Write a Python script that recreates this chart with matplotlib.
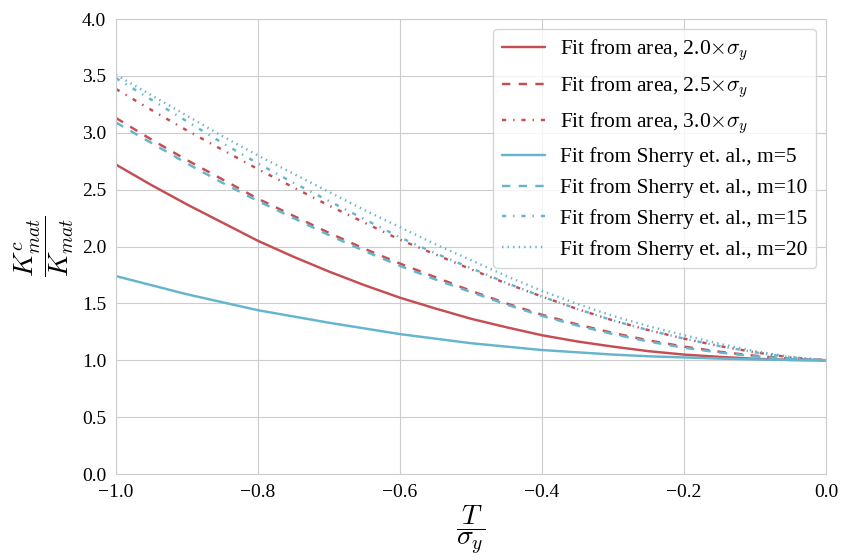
import matplotlib
matplotlib.use("Agg")
import matplotlib.pyplot as plt
import seaborn as sns

sns.set_style("whitegrid")
plt.rcParams['font.family'] = ['Liberation Serif', 'DejaVu Serif']
plt.rcParams['mathtext.fontset'] = 'cm'
plt.rcParams['lines.scale_dashes'] = False
plt.rcParams['text.color'] = 'black'
plt.rcParams['xtick.color'] = 'black'
plt.rcParams['ytick.color'] = 'black'
plt.rcParams['axes.labelcolor'] = 'black'

# T / sigma_y
x = [-1.0, -0.95, -0.9, -0.85, -0.8, -0.75, -0.7, -0.65, -0.6, -0.55, -0.5,
     -0.45, -0.4, -0.35, -0.3, -0.25, -0.2, -0.15, -0.1, -0.05, 0.0]

# fits from area
area_20 = [2.72, 2.54, 2.37, 2.21, 2.05, 1.91, 1.78, 1.66, 1.55, 1.455, 1.365,
           1.29, 1.22, 1.165, 1.12, 1.08, 1.05, 1.03, 1.013, 1.003, 1.0]
area_25 = [3.13, 2.94, 2.76, 2.59, 2.42, 2.27, 2.12, 1.98, 1.85, 1.73, 1.61,
           1.50, 1.40, 1.315, 1.24, 1.175, 1.12, 1.075, 1.04, 1.013, 1.0]
area_30 = [3.385, 3.20, 3.02, 2.85, 2.68, 2.52, 2.36, 2.21, 2.06, 1.93, 1.80,
           1.675, 1.56, 1.45, 1.35, 1.265, 1.19, 1.125, 1.07, 1.025, 1.0]

# fits from Sherry et. al.
sherry_5 = [1.74, 1.66, 1.58, 1.51, 1.44, 1.385, 1.33, 1.28, 1.23, 1.19, 1.15,
            1.12, 1.09, 1.07, 1.05, 1.035, 1.025, 1.015, 1.008, 1.002, 1.0]
sherry_10 = [3.09, 2.91, 2.73, 2.56, 2.40, 2.25, 2.10, 1.96, 1.83, 1.71, 1.60,
             1.49, 1.39, 1.305, 1.23, 1.165, 1.11, 1.068, 1.035, 1.01, 1.0]
sherry_15 = [3.48, 3.29, 3.10, 2.91, 2.73, 2.56, 2.40, 2.24, 2.08, 1.94, 1.81,
             1.68, 1.56, 1.45, 1.35, 1.265, 1.19, 1.125, 1.07, 1.025, 1.0]
sherry_20 = [3.51, 3.33, 3.15, 2.97, 2.80, 2.64, 2.48, 2.32, 2.17, 2.02, 1.88,
             1.74, 1.61, 1.495, 1.39, 1.30, 1.22, 1.145, 1.08, 1.03, 1.0]

red = "#C44E52"
blue = "#64B5CD"
dash = (6, 6)
dashdot = (3, 5, 1, 5)
dot = (1, 3)

fig = plt.figure(figsize=(8.44, 5.59), dpi=100)
ax = fig.add_axes([0.1374, 0.152, 0.8413, 0.814])

ax.plot(x, area_20, color=red, lw=1.75, label=r"Fit from area, 2.0$\times\sigma_y$")
ax.plot(x, area_25, color=red, lw=1.75, dashes=dash, label=r"Fit from area, 2.5$\times\sigma_y$")
ax.plot(x, area_30, color=red, lw=1.75, dashes=dashdot, label=r"Fit from area, 3.0$\times\sigma_y$")
ax.plot(x, sherry_5, color=blue, lw=1.75, label="Fit from Sherry et. al., m=5")
ax.plot(x, sherry_10, color=blue, lw=1.75, dashes=dash, label="Fit from Sherry et. al., m=10")
ax.plot(x, sherry_15, color=blue, lw=1.75, dashes=dashdot, label="Fit from Sherry et. al., m=15")
ax.plot(x, sherry_20, color=blue, lw=1.75, dashes=dot, label="Fit from Sherry et. al., m=20")

ax.set_xlim(-1.0, 0.0)
ax.set_ylim(0.0, 4.0)
ax.set_xticks([-1.0, -0.8, -0.6, -0.4, -0.2, 0.0])
ax.set_yticks([0.0, 0.5, 1.0, 1.5, 2.0, 2.5, 3.0, 3.5, 4.0])
ax.tick_params(labelsize=14)

ax.set_xlabel(r"$\dfrac{T}{\sigma_y}$", fontsize=20, labelpad=2)
ax.set_ylabel(r"$\dfrac{K^c_{mat}}{K_{mat}}$", fontsize=20, labelpad=4)

leg = ax.legend(loc='upper right', fontsize=15.5, frameon=True, handlelength=2.0,
                handletextpad=0.7, labelspacing=0.5, borderaxespad=0.45)
leg.get_frame().set_facecolor('white')

fig.savefig("out.png", dpi=100)
